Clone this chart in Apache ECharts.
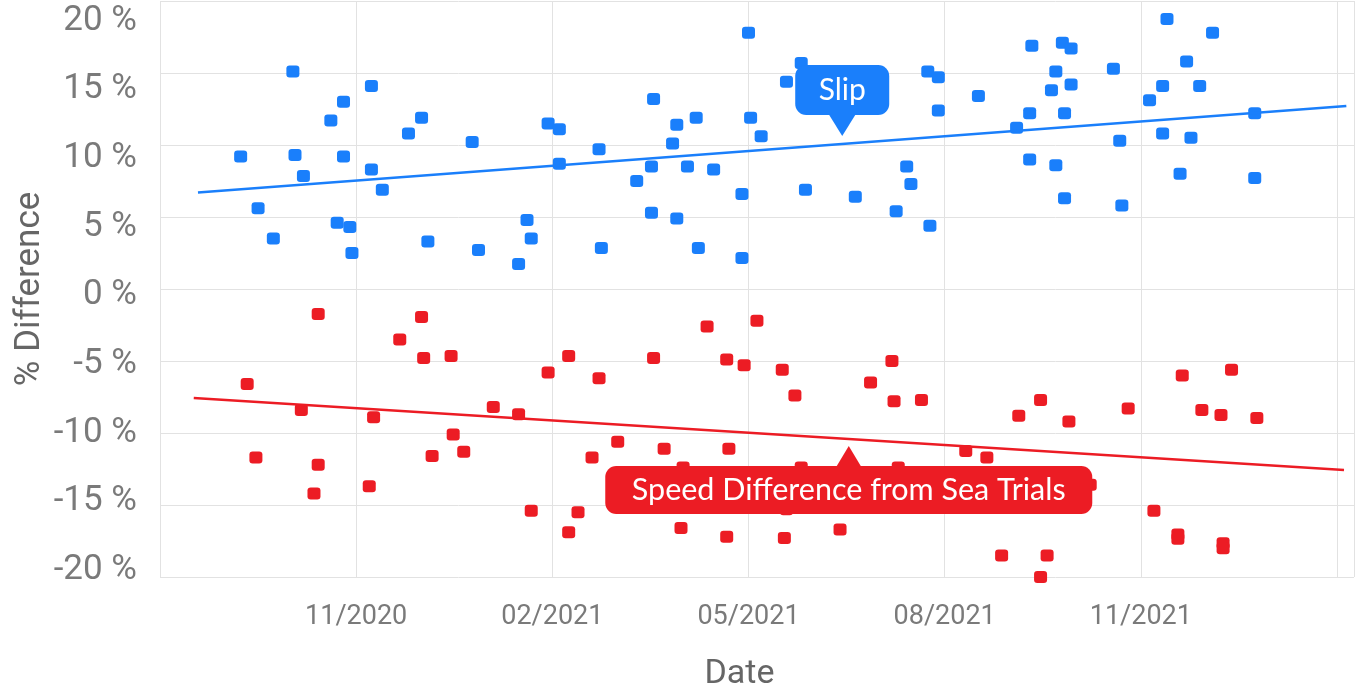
<!DOCTYPE html>
<html>
<head>
<meta charset="utf-8">
<script src="https://cdn.jsdelivr.net/npm/echarts@6/dist/echarts.min.js"></script>
<style>
html,body{margin:0;padding:0;background:#fff;}
#chart{width:1357px;height:698px;}
</style>
</head>
<body>
<div id="chart"></div>
<script>
// ---- data ----
const slipDates = ['2020-09-08','2020-09-16','2020-09-23','2020-10-02','2020-10-03','2020-10-07','2020-10-20','2020-10-23','2020-10-26','2020-10-26','2020-10-29','2020-10-30','2020-11-08','2020-11-08','2020-11-13','2020-11-25','2020-12-01','2020-12-04','2020-12-25','2020-12-28','2021-01-16','2021-01-20','2021-01-22','2021-01-30','2021-02-04','2021-02-04','2021-02-21','2021-02-22','2021-03-10','2021-03-17','2021-03-17','2021-03-18','2021-03-27','2021-03-29','2021-03-29','2021-04-03','2021-04-07','2021-04-08','2021-04-15','2021-04-28','2021-04-28','2021-05-01','2021-05-02','2021-05-07','2021-05-19','2021-05-26','2021-05-28','2021-06-20','2021-07-09','2021-07-14','2021-07-16','2021-07-24','2021-07-25','2021-07-29','2021-07-29','2021-08-17','2021-09-04','2021-09-10','2021-09-10','2021-09-11','2021-09-20','2021-09-22','2021-09-22','2021-09-25','2021-09-26','2021-09-26','2021-09-29','2021-09-29','2021-10-19','2021-10-22','2021-10-23','2021-11-05','2021-11-11','2021-11-11','2021-11-13','2021-11-19','2021-11-22','2021-11-24','2021-11-28','2021-12-04','2021-12-24','2021-12-24'];
const slipValues = [9.2,5.6,3.5,15.1,9.3,7.85,11.7,4.6,13.0,9.2,4.3,2.5,14.1,8.3,6.9,10.8,11.9,3.3,10.2,2.7,1.74,4.8,3.5,11.5,11.1,8.7,9.7,2.85,7.5,8.5,5.3,13.2,10.1,11.4,4.9,8.5,11.9,2.85,8.3,6.6,2.15,17.8,11.9,10.6,14.4,15.7,6.9,6.4,5.4,8.5,7.3,15.1,4.4,14.7,12.4,13.4,11.2,12.2,9.0,16.9,13.8,15.1,8.6,17.1,6.3,12.2,16.7,14.2,15.3,10.3,5.8,13.1,14.1,10.8,18.75,8.0,15.8,10.5,14.1,17.8,12.2,7.7];

const speedDates = ['2020-09-11','2020-09-15','2020-10-06','2020-10-12','2020-10-14','2020-10-14','2020-11-07','2020-11-09','2020-11-21','2020-12-01','2020-12-02','2020-12-06','2020-12-15','2020-12-16','2020-12-21','2021-01-04','2021-01-16','2021-01-22','2021-01-30','2021-02-08','2021-02-08','2021-02-12','2021-02-18','2021-02-21','2021-03-01','2021-03-18','2021-03-23','2021-03-31','2021-04-01','2021-04-12','2021-04-21','2021-04-21','2021-04-22','2021-04-29','2021-05-05','2021-05-17','2021-05-18','2021-05-19','2021-05-23','2021-05-26','2021-06-13','2021-06-27','2021-07-07','2021-07-08','2021-07-10','2021-07-21','2021-08-11','2021-08-21','2021-08-28','2021-09-05','2021-09-15','2021-09-15','2021-09-18','2021-09-28','2021-10-08','2021-10-26','2021-11-07','2021-11-18','2021-11-18','2021-11-20','2021-11-29','2021-12-08','2021-12-09','2021-12-09','2021-12-13','2021-12-25'];
const speedValues = [-6.6,-11.7,-8.4,-14.2,-1.74,-12.2,-13.7,-8.9,-3.5,-1.94,-4.8,-11.6,-4.65,-10.1,-11.3,-8.2,-8.7,-15.4,-5.8,-16.9,-4.65,-15.5,-11.7,-6.2,-10.6,-4.8,-11.1,-16.6,-12.4,-2.6,-4.9,-17.2,-11.1,-5.3,-2.2,-5.6,-17.3,-15.3,-7.4,-12.4,-16.7,-6.5,-5.0,-7.8,-12.4,-7.7,-11.25,-11.7,-18.5,-8.8,-20.0,-7.7,-18.5,-9.2,-13.6,-8.3,-15.4,-17.05,-17.35,-6.0,-8.4,-8.75,-17.65,-18.0,-5.6,-8.95];

const slipTrendDates = ['2020-08-19','2022-02-05'];
const slipTrendValues = [6.7, 12.7];
const speedTrendDates = ['2020-08-17','2022-02-04'];
const speedTrendValues = [-7.57, -12.57];

const xTickLabels = ['', '11/2020', '02/2021', '05/2021', '08/2021', '11/2021', ''];
const slipName = 'Slip';
const speedName = 'Speed Difference from Sea Trials';

// ---- helpers ----
// x axis unit: months since 2020-08-01 (fractional)
function toMonths(s){
  const p = s.split('-').map(Number);
  const dim = new Date(Date.UTC(p[0], p[1], 0)).getUTCDate();
  return (p[0]-2020)*12 + (p[1]-1) - 7 + (p[2]-1)/dim;
}
function pairs(d, v){ return d.map((x,i)=>[toMonths(x), v[i]]); }

const BLUE = '#1a7ffb';
const RED = '#ec1c24';
const GRID = '#e2e2e2';
const TICK = '#7a7a7a';
const TICK_FONT = "'Roboto', sans-serif";

const chart = echarts.init(document.getElementById('chart'), null, {renderer:'canvas'});
chart.setOption({
  animation: false,
  backgroundColor: '#fff',
  grid: [
    {left:160, right:0, top:1, bottom:121},
    {left:160, right:0, top:21, bottom:128}
  ],
  xAxis: [
    {
      type:'value', gridIndex:0, min:0, max:18.26, interval:3,
      axisLine:{show:false}, axisTick:{show:false},
      splitLine:{show:true, lineStyle:{color:GRID, width:1}},
      axisLabel:{
        color:TICK, fontFamily:TICK_FONT, fontSize:27, margin:27,
        formatter: v => { const i = Math.round(v/3); return (Math.abs(v - i*3) < 1e-6 && xTickLabels[i]) ? xTickLabels[i] : ''; }
      },
      name:'Date', nameLocation:'middle', nameGap:80,
      nameTextStyle:{color:'#666', fontFamily:'Roboto', fontSize:34, padding:[0,35,0,0]}
    },
    {type:'value', gridIndex:1, min:0, max:1, show:false}
  ],
  yAxis: [
    {
      type:'value', gridIndex:0, min:-20, max:20, interval:5,
      axisLine:{show:false}, axisTick:{show:false}, axisLabel:{show:false},
      splitLine:{show:true, lineStyle:{color:GRID, width:1}},
      name:'% Difference', nameLocation:'middle', nameGap:112, nameRotate:90,
      nameTextStyle:{color:'#666', fontFamily:'Roboto', fontSize:35}
    },
    {
      type:'value', gridIndex:1, min:-20, max:20, interval:5,
      axisLine:{show:false}, axisTick:{show:false}, splitLine:{show:false},
      axisLabel:{color:TICK, fontFamily:TICK_FONT, fontSize:35, margin:23, formatter: v => v + ' %'}
    }
  ],
  series: [
    {
      name: slipName, type:'scatter', xAxisIndex:0, yAxisIndex:0, z:2,
      symbol:'roundRect', symbolSize:[13,12],
      itemStyle:{color:BLUE, opacity:1},
      data: pairs(slipDates, slipValues)
    },
    {
      name: speedName, type:'scatter', xAxisIndex:0, yAxisIndex:0, z:2,
      symbol:'roundRect', symbolSize:[13,12],
      itemStyle:{color:RED, opacity:1},
      data: pairs(speedDates, speedValues)
    },
    {
      name: slipName + ' trend', type:'line', xAxisIndex:0, yAxisIndex:0, z:3,
      showSymbol:false, symbol:'none',
      lineStyle:{color:BLUE, width:2.5},
      data: pairs(slipTrendDates, slipTrendValues),
      markPoint:{
        z:10,
        symbol:'path://M0,0 L26,0 L13,21 Z', symbolSize:[26,21], symbolOffset:[0,-10.5],
        itemStyle:{color:BLUE},
        label:{
          show:true, position:'top', distance:0, formatter: slipName,
          color:'#fff', fontFamily:'Lato', fontSize:30, lineHeight:28,
          backgroundColor:BLUE, borderRadius:11, width:94, align:'center', padding:[11,0,11,0]
        },
        data:[{coord:[toMonths('2021-06-14'), 10.62]}]
      }
    },
    {
      name: speedName + ' trend', type:'line', xAxisIndex:0, yAxisIndex:0, z:3,
      showSymbol:false, symbol:'none',
      lineStyle:{color:RED, width:2.5},
      data: pairs(speedTrendDates, speedTrendValues),
      markPoint:{
        z:10,
        symbol:'path://M13,0 L26,21 L0,21 Z', symbolSize:[24,20], symbolOffset:[0,10],
        itemStyle:{color:RED},
        label:{
          show:true, position:'bottom', distance:0, formatter: speedName,
          color:'#fff', fontFamily:'Lato', fontSize:30.5, lineHeight:28,
          backgroundColor:RED, borderRadius:11, width:487, align:'center', padding:[10,0,10,0]
        },
        data:[{coord:[toMonths('2021-06-17'), -10.9]}]
      }
    }
  ]
});
</script>
</body>
</html>
